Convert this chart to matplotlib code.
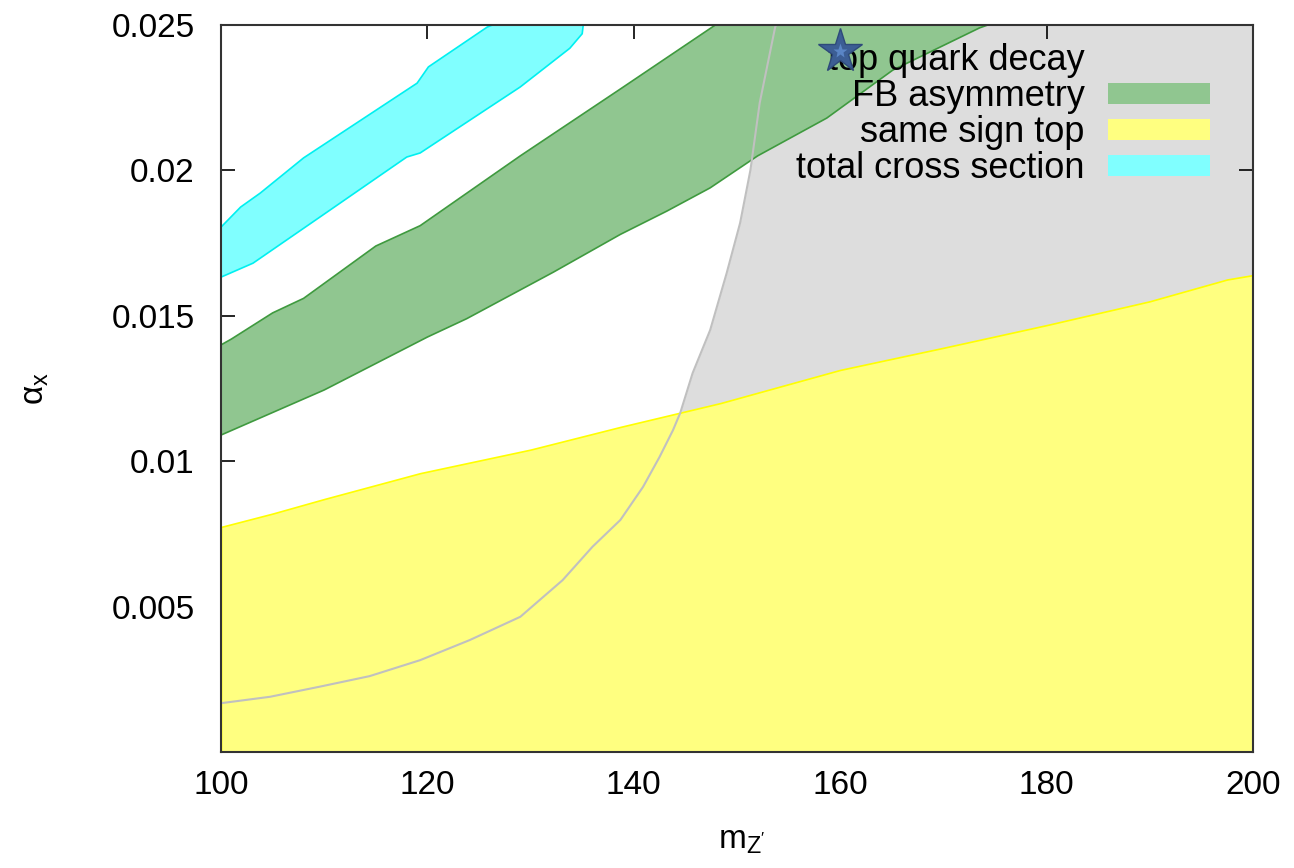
import matplotlib
matplotlib.use("Agg")
import matplotlib.pyplot as plt

plt.rcParams['font.family'] = ['Liberation Sans', 'DejaVu Sans']
plt.rcParams['mathtext.fontset'] = 'custom'
plt.rcParams['mathtext.rm'] = 'Liberation Sans'
plt.rcParams['mathtext.it'] = 'Liberation Sans'

# top quark decay boundary (gray curve)
decay_x = [99.9, 104.75, 109.6, 114.4, 119.3, 124.1, 129.0, 133.1, 136.0, 138.7, 140.9,
           142.5, 143.8, 144.5, 145.7, 147.4, 149.0, 150.3, 151.3, 152.2, 153.7, 153.8]
decay_y = [0.001675, 0.0019, 0.00225, 0.00261, 0.00316, 0.00385, 0.00465, 0.00591, 0.00706,
           0.00798, 0.00912, 0.01015, 0.01107, 0.01166, 0.01303, 0.01451, 0.01647, 0.01819,
           0.02001, 0.02232, 0.02493, 0.025]

# same sign top (yellow), upper edge
ss_x = [100, 105, 110, 119.3, 130, 138.7, 148.4, 160, 170, 180, 190, 197.5, 200]
ss_y = [0.00774, 0.0082, 0.0087, 0.00959, 0.0104, 0.01118, 0.0120, 0.01314, 0.0139, 0.01468,
        0.0155, 0.01625, 0.0164]

# FB asymmetry band (green)
fb_lo_x = [100, 110, 120, 123.8, 132.2, 138.7, 143.2, 147.4, 152, 158.7, 165.1, 173.5, 174.3]
fb_lo_y = [0.0109, 0.01245, 0.01427, 0.0149, 0.0165, 0.0178, 0.0186, 0.0194, 0.0205, 0.0218,
           0.02345, 0.0249, 0.025]
fb_hi_x = [100, 101, 105, 108, 115, 119.3, 129, 138.7, 147.9]
fb_hi_y = [0.0140, 0.0142, 0.0151, 0.0156, 0.0174, 0.0181, 0.0205, 0.0228, 0.025]

# total cross section band (cyan)
xs_lo_x = [100, 103.1, 109.6, 118, 119.3, 129, 133.8, 135, 135.1]
xs_lo_y = [0.01633, 0.01681, 0.0184, 0.02046, 0.0206, 0.02287, 0.0242, 0.0247, 0.025]
xs_hi_x = [100, 101.9, 103.8, 108, 119, 120.1, 125.8, 126.3]
xs_hi_y = [0.01805, 0.01874, 0.01922, 0.02043, 0.0230, 0.02356, 0.02493, 0.025]

star_x, star_y = 160, 0.0241

fig = plt.figure(figsize=(12.94, 8.68), dpi=100)
ax = fig.add_axes([0.1708, 0.1336, 0.7975, 0.8376])

gray = ax.fill_betweenx(decay_y, decay_x, 200, color='#dddddd', lw=0, zorder=1)

fb = ax.fill(fb_lo_x + fb_hi_x[::-1], fb_lo_y + fb_hi_y[::-1], facecolor='#90c690',
             edgecolor='#3f9a3f', lw=1.2, zorder=2)[0]
xs = ax.fill(xs_lo_x + xs_hi_x[::-1], xs_lo_y + xs_hi_y[::-1], facecolor='#80ffff',
             edgecolor='#00f0f0', lw=1.2, zorder=2)[0]
ss = ax.fill_between(ss_x, 0, ss_y, facecolor='#ffff80', edgecolor='#ffff00', lw=1.2, zorder=3)

ax.plot(decay_x, decay_y, color='#c0c0c0', lw=1.5, zorder=4)

ax.plot(star_x, star_y, marker='*', ms=33, color='#3c5e94', mec='#2e4a7a', zorder=6)
ax.plot(star_x, star_y, marker='*', ms=11, color='#5a85c5', mec='none', zorder=7)

ax.set_xlim(100, 200)
ax.set_ylim(0, 0.025)
ax.set_xticks([100, 120, 140, 160, 180, 200])
ax.set_yticks([0.005, 0.01, 0.015, 0.02, 0.025])
ax.set_yticklabels(['0.005', '0.01', '0.015', '0.02', '0.025'])
ax.tick_params(direction='in', length=10, width=1.2, top=True, right=True, labelsize=24)
ax.tick_params(axis='y', pad=19)
ax.tick_params(axis='x', pad=13)
for s in ax.spines.values():
    s.set_linewidth(1.5)
    s.set_color('#333333')
    s.set_zorder(10)

ax.set_xlabel(r"m$_{\mathregular{Z'}}$", fontsize=24)
ax.xaxis.set_label_coords(0.505, -0.1)
ax.set_ylabel(r'$\alpha_x$', fontsize=24)
ax.yaxis.set_label_coords(-0.165, 0.5)

leg = ax.legend([gray, fb, ss, xs],
                ['top quark decay', 'FB asymmetry', 'same sign top', 'total cross section'],
                loc='upper right', bbox_to_anchor=(0.990, 1.02), frameon=False,
                markerfirst=False, fontsize=26, handlelength=2.83, handleheight=0.5,
                labelspacing=0.03, handletextpad=0.64)
# right-align the legend rows like gnuplot
for col in leg._legend_handle_box.get_children():
    col.align = 'right'
for h in leg.legend_handles:
    h.set_edgecolor('none')
leg.set_zorder(5)

fig.savefig('out.png', dpi=100)
